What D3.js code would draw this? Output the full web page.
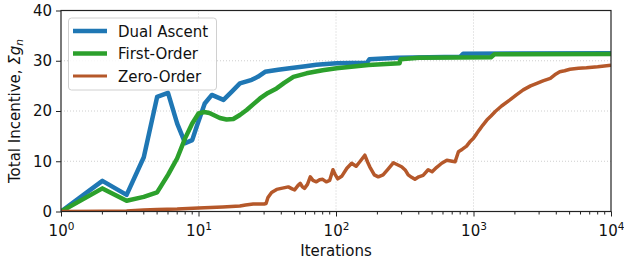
<!DOCTYPE html>
<html><head><meta charset="utf-8">
<script src="https://cdn.jsdelivr.net/npm/d3@7"></script>
<style>body{margin:0;background:#fff}svg{display:block}text{font-family:"DejaVu Sans",sans-serif;fill:#111}</style>
</head><body><svg id="c" width="624" height="268"></svg>
<script>
const seriesNames = ["Dual Ascent", "First-Order", "Zero-Order"];
const seriesColors = ["#1f77b4", "#2ca02c", "#b5582a"];
const dualAscent = [[1,0],[2,6.1],[3,3.3],[4,10.8],[5,22.8],[6,23.6],[7,17.5],[8,13.6],[9,14.2],[9.7,16.9],[11.1,21.5],[12.5,23.2],[13.5,22.8],[15.2,22.2],[17.4,23.8],[20,25.5],[24.4,26.2],[27,26.8],[30.5,27.8],[38,28.2],[46,28.5],[60,28.9],[72,29.2],[101,29.5],[168,29.6],[175,30.3],[280,30.6],[800,30.8],[840,31.4],[10000,31.5]];
const firstOrder = [[1,0],[2,4.6],[3,2.15],[4,2.9],[5,3.8],[6,7.3],[7,10.6],[8,14.6],[9,17.5],[10,19.5],[11,19.8],[12,19.6],[14.3,18.6],[16,18.3],[17.9,18.4],[20,19.2],[22.4,20.2],[28,22.5],[32,23.6],[37,24.5],[42,25.6],[49,26.8],[61,27.5],[80,28.1],[101,28.5],[172,29.15],[290,29.5],[295,30.3],[400,30.6],[1340,30.7],[1420,31.3],[10000,31.35]];
const zeroOrder = [[1,0],[2,0.05],[3,0.1],[4,0.3],[5,0.4],[7,0.5],[10,0.7],[15,0.9],[20,1.1],[22,1.3],[25,1.5],[30,1.5],[31,1.6],[32,2.8],[34,3.8],[37,4.4],[40,4.6],[45,4.9],[48,4.5],[50,4.3],[53,5.2],[55,5.6],[57,4.9],[59,4.6],[62,5.4],[65,6.9],[68,6.2],[72,5.9],[76,6.3],[80,6.4],[85,5.9],[90,6.2],[95,8.3],[98,7.5],[103,6.5],[110,7.0],[120,8.6],[130,9.6],[140,9.0],[150,10.0],[162,11.2],[170,9.8],[176,8.9],[190,7.3],[203,6.9],[220,7.3],[240,8.5],[261,9.7],[280,9.3],[300,8.9],[320,8.2],[335,7.3],[355,6.8],[375,6.4],[400,6.9],[430,7.2],[468,8.3],[500,7.9],[540,8.8],[587,9.6],[640,10.2],[700,10.0],[735,9.9],[777,11.9],[830,12.4],[890,13.0],[950,14.0],[1000,14.6],[1050,15.4],[1100,16.2],[1170,17.2],[1250,18.2],[1340,19.0],[1440,19.9],[1600,21.0],[1840,22.2],[2050,23.2],[2300,24.2],[2600,25.0],[2890,25.5],[3200,26.0],[3620,26.5],[3900,27.2],[4240,27.8],[4600,28.0],[5030,28.3],[5800,28.5],[6630,28.6],[8000,28.8],[10000,29.1]];
const xTickExps = [0,1,2,3,4];
const yTicks = [0,10,20,30,40];

const svg = d3.select("#c");
const L=61,R=611,T=10.5,B=211.5;
const x = d3.scaleLog().domain([1,1e4]).range([L,R]);
const y = d3.scaleLinear().domain([0,40]).range([B,T]);

// grid
const g = svg.append("g");
g.selectAll(".gx").data(xTickExps.slice(1,-1)).enter().append("line")
 .attr("x1",d=>x(Math.pow(10,d))).attr("x2",d=>x(Math.pow(10,d))).attr("y1",T).attr("y2",B)
 .attr("stroke","#c8c8c8").attr("stroke-width",0.9).attr("stroke-dasharray","1,2");
g.selectAll(".gy").data(yTicks.slice(1,-1)).enter().append("line")
 .attr("y1",d=>y(d)).attr("y2",d=>y(d)).attr("x1",L).attr("x2",R)
 .attr("stroke","#c8c8c8").attr("stroke-width",0.9).attr("stroke-dasharray","1,2");

svg.append("clipPath").attr("id","clip").append("rect").attr("x",L).attr("y",T).attr("width",R-L).attr("height",B-T);
const line = d3.line().x(d=>x(d[0])).y(d=>y(d[1]));
const data=[dualAscent,firstOrder,zeroOrder];
const widths=[4.5,4.5,3.5];
data.forEach((s,i)=>{
  svg.append("path").attr("clip-path","url(#clip)").attr("d",line(s)).attr("fill","none")
   .attr("stroke",seriesColors[i]).attr("stroke-width",widths[i]).attr("stroke-linejoin","round");
});

// axes
const xAxis = d3.axisBottom(x).tickValues(xTickExps.map(e=>Math.pow(10,e))).tickSize(5).tickPadding(4).tickFormat("");
const xg = svg.append("g").attr("transform",`translate(0,${B})`).call(xAxis);
xg.select(".domain").remove();
const minor=[];
for(let e=0;e<4;e++)for(let k=2;k<10;k++)minor.push(k*Math.pow(10,e));
xg.selectAll(".minor").data(minor).enter().append("line").attr("x1",d=>x(d)).attr("x2",d=>x(d)).attr("y1",0).attr("y2",3).attr("stroke","#222");
xg.selectAll(".tick line").attr("stroke","#222");
xg.selectAll(".tick").each(function(d,i){
  const t=d3.select(this).append("text").attr("y",24).attr("text-anchor","middle").style("font-size","15px").attr("fill","#111");
  t.append("tspan").text("10");
  t.append("tspan").attr("dy",-6).style("font-size","10.5px").text(xTickExps[i]);
});
const yAxis = d3.axisLeft(y).tickValues(yTicks).tickSize(5).tickPadding(4);
const yg = svg.append("g").attr("transform",`translate(${L},0)`).call(yAxis);
yg.select(".domain").remove();
yg.selectAll(".tick line").attr("stroke","#222");
yg.selectAll(".tick text").style("font-size","15px").attr("fill","#111").attr("font-family","DejaVu Sans");

svg.append("rect").attr("x",L).attr("y",T).attr("width",R-L).attr("height",B-T).attr("fill","none").attr("stroke","#222").attr("stroke-width",1.2);

// labels
svg.append("text").attr("x",(L+R)/2).attr("y",256).attr("text-anchor","middle").style("font-size","15px").text("Iterations");
const yl = svg.append("text").attr("transform",`translate(20,${(T+B)/2}) rotate(-90)`).attr("text-anchor","middle").style("font-size","15px");
yl.append("tspan").text("Total Incentive, ");
yl.append("tspan").style("font-style","italic").text("Σg");
yl.append("tspan").style("font-style","italic").style("font-size","10.5px").attr("dy",3).text("n");

// legend
const lg = svg.append("g");
lg.append("rect").attr("x",68.5).attr("y",18).attr("width",148).attr("height",72).attr("rx",3)
 .attr("fill","#fff").attr("fill-opacity",0.85).attr("stroke","#d0d0d0");
seriesNames.forEach((n,i)=>{
  const yy=31+i*22.5;
  lg.append("line").attr("x1",73).attr("x2",107).attr("y1",yy).attr("y2",yy).attr("stroke",seriesColors[i]).attr("stroke-width",i<2?4.5:3);
  lg.append("text").attr("x",118).attr("y",yy+5.5).style("font-size","15px").text(n);
});
</script></body></html>
